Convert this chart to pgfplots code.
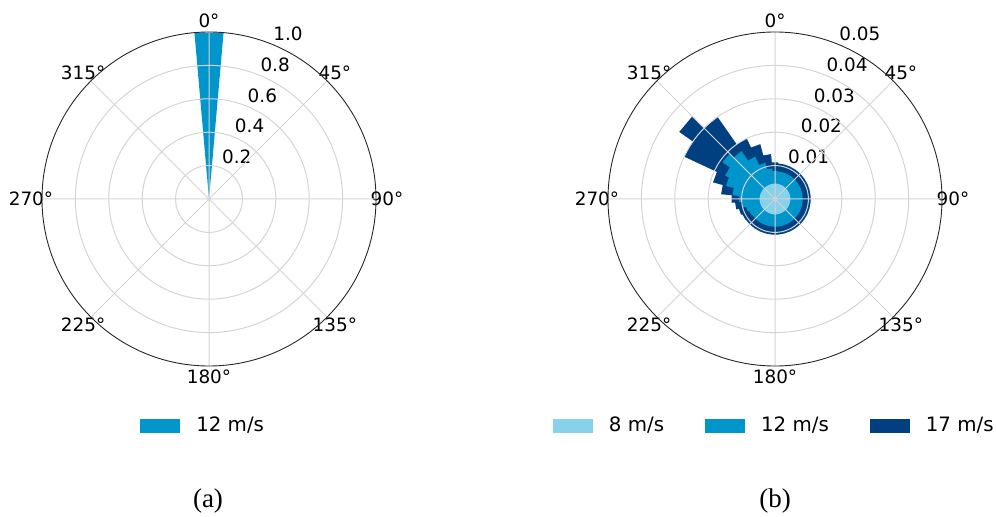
\documentclass[border=0pt]{standalone}
\usepackage{fontspec}
\setmainfont{DejaVu Sans}
\newfontfamily\capfont{Liberation Serif}
\usepackage{pgfplots}
\pgfplotsset{compat=1.18}
\usepgfplotslibrary{polar}
\definecolor{c8}{RGB}{136,209,234}
\definecolor{c12}{RGB}{0,150,204}
\definecolor{c17}{RGB}{0,64,128}
\definecolor{gridc}{RGB}{212,212,212}
\newcommand\tickfont{\fontsize{9.2}{11}\selectfont}
\newcommand\legfont{\fontsize{9.9}{12}\selectfont}
\pgfplotsset{
  rose/.style={
    width=167pt, height=167pt, scale only axis,
    anchor=center,
    clip=false, axis on top,
    xmin=0, xmax=360, ymin=0,
    xtick={0,45,...,315}, xticklabels={},
    yticklabels={}, scaled y ticks=false,
    major tick length=0pt,
    xmajorgrids, ymajorgrids,
    grid style={gridc, line width=0.5pt},
    x axis line style={black!85, line width=0.45pt},
    y axis line style={draw=none},
    x filter/.expression={90-x},
    legend columns=-1,
    legend style={draw=none, fill=none, inner sep=0pt, font=\legfont, anchor=west,
      /tikz/every odd column/.append style={column sep=6pt},
      /tikz/every even column/.append style={column sep=18.5pt}},
    legend image code/.code={\fill[#1] (0pt,-3.5pt) rectangle (20pt,3.5pt);},
  },
}
\tikzset{
  alab/.style={font=\tickfont, anchor=center, inner sep=0pt},
  rlab/.style={font=\tickfont, anchor=base west, inner sep=0pt, yshift=2.2pt},
}
\begin{document}
\begin{tikzpicture}
\useasboundingbox (0,0) rectangle (498pt,-258.5pt);
% ---------------- (a)
\begin{polaraxis}[rose, at={(104.5pt,-99.5pt)}, ymax=1,
  ytick={0.2,0.4,0.6,0.8},
  legend style={at={(0.293,-0.180)}}]
\addplot[fill=c12, draw=none] coordinates {(0,0) (-5,1) (5,1)};
\addlegendentry{12 m/s}
\node[alab] at (axis cs:90,1.066) {0°};
\node[alab] at (axis cs:45,1.066) {45°};
\node[alab] at (axis cs:0,1.066) {90°};
\node[alab] at (axis cs:-45,1.066) {135°};
\node[alab] at (axis cs:-90,1.066) {180°};
\node[alab] at (axis cs:-135,1.066) {225°};
\node[alab] at (axis cs:180,1.066) {270°};
\node[alab] at (axis cs:135,1.066) {315°};
\node[rlab] at (axis cs:67.5,0.2) {0.2};
\node[rlab] at (axis cs:67.5,0.4) {0.4};
\node[rlab] at (axis cs:67.5,0.6) {0.6};
\node[rlab] at (axis cs:67.5,0.8) {0.8};
\node[rlab] at (axis cs:67.5,1.0) {1.0};
\end{polaraxis}
% ---------------- (b)
\begin{polaraxis}[rose, at={(387.5pt,-99.5pt)}, ymax=0.05,
  ytick={0.01,0.02,0.03,0.04},
  legend style={at={(-0.166,-0.180)}}]
\addlegendimage{fill=c8, draw=none}
\addlegendentry{8 m/s}
\addlegendimage{fill=c12, draw=none}
\addlegendentry{12 m/s}
\addlegendimage{fill=c17, draw=none}
\addlegendentry{17 m/s}
% 17 m/s (cumulative total), 10 degree bins
\addplot[fill=c17, draw=none, forget plot] coordinates {
(-5,0.0110) (5,0.0110)
(5,0.0107) (15,0.0107) (15,0.0107) (25,0.0107) (25,0.0107) (35,0.0107)
(35,0.0107) (45,0.0107) (45,0.0107) (55,0.0107) (55,0.0107) (65,0.0107)
(65,0.0107) (75,0.0107) (75,0.0107) (85,0.0107) (85,0.0107) (95,0.0107)
(95,0.0107) (105,0.0107) (105,0.0107) (115,0.0107) (115,0.0107) (125,0.0107)
(125,0.0107) (135,0.0107) (135,0.0107) (145,0.0107) (145,0.0107) (155,0.0107)
(155,0.0107) (165,0.0107) (165,0.0107) (175,0.0107) (175,0.0107) (185,0.0107)
(185,0.0107) (195,0.0107) (195,0.0107) (205,0.0107) (205,0.0107) (215,0.0107)
(215,0.0107) (225,0.0107) (225,0.0107) (235,0.0107)
(235,0.0108) (245,0.0108)
(245,0.0112) (255,0.0112)
(255,0.0120) (265,0.0120)
(265,0.0130) (275,0.0130)
(275,0.0162) (285,0.0162)
(285,0.0192) (295,0.0192)
(295,0.0300) (305,0.0300)
(305,0.0350) (315,0.0350)
(315,0.0300) (325,0.0300)
(325,0.0200) (335,0.0200)
(335,0.0170) (345,0.0170)
(345,0.0135) (355,0.0135)
};
% 12 m/s (cumulative)
\addplot[fill=c12, draw=none, forget plot] coordinates {
(-5,0.0084) (5,0.0084)
(5,0.0083) (15,0.0083) (15,0.0083) (25,0.0083) (25,0.0083) (35,0.0083)
(35,0.0083) (45,0.0083) (45,0.0083) (55,0.0083) (55,0.0083) (65,0.0083)
(65,0.0083) (75,0.0083) (75,0.0083) (85,0.0083) (85,0.0083) (95,0.0083)
(95,0.0083) (105,0.0083) (105,0.0083) (115,0.0083) (115,0.0083) (125,0.0083)
(125,0.0083) (135,0.0083) (135,0.0083) (145,0.0083) (145,0.0083) (155,0.0083)
(155,0.0083) (165,0.0083) (165,0.0083) (175,0.0083) (175,0.0083) (185,0.0083)
(185,0.0083) (195,0.0083) (195,0.0083) (205,0.0083) (205,0.0083) (215,0.0083)
(215,0.0083) (225,0.0083) (225,0.0083) (235,0.0083)
(235,0.0085) (245,0.0085)
(245,0.0090) (255,0.0090)
(255,0.0098) (265,0.0098)
(265,0.0108) (275,0.0108)
(275,0.0128) (285,0.0128)
(285,0.0152) (295,0.0152)
(295,0.0165) (305,0.0165)
(305,0.0192) (315,0.0192)
(315,0.0175) (325,0.0175)
(325,0.0140) (335,0.0140)
(335,0.0112) (345,0.0112)
(345,0.0092) (355,0.0092)
};
% 8 m/s
\addplot[fill=c8, draw=none, forget plot] coordinates {
(-5,0.0046) (5,0.0046) (15,0.0046) (25,0.0046) (35,0.0046) (45,0.0046)
(55,0.0046) (65,0.0046) (75,0.0046) (85,0.0046) (95,0.0046) (105,0.0046)
(115,0.0046) (125,0.0046) (135,0.0046) (145,0.0046) (155,0.0046) (165,0.0046)
(175,0.0046) (185,0.0046) (195,0.0046) (205,0.0046) (215,0.0046) (225,0.0046)
(235,0.0046) (245,0.0046) (255,0.0046) (265,0.0046) (275,0.0046) (285,0.0046)
(295,0.0046) (305,0.0046) (315,0.0046) (325,0.0046) (335,0.0046) (345,0.0046)
};
\node[alab] at (axis cs:90,0.0533) {0°};
\node[alab] at (axis cs:45,0.0533) {45°};
\node[alab] at (axis cs:0,0.0533) {90°};
\node[alab] at (axis cs:-45,0.0533) {135°};
\node[alab] at (axis cs:-90,0.0533) {180°};
\node[alab] at (axis cs:-135,0.0533) {225°};
\node[alab] at (axis cs:180,0.0533) {270°};
\node[alab] at (axis cs:135,0.0533) {315°};
\node[rlab] at (axis cs:67.5,0.01) {0.01};
\node[rlab] at (axis cs:67.5,0.02) {0.02};
\node[rlab] at (axis cs:67.5,0.03) {0.03};
\node[rlab] at (axis cs:67.5,0.04) {0.04};
\node[rlab] at (axis cs:67.5,0.05) {0.05};
\end{polaraxis}
\node[font=\capfont\fontsize{13.5}{15}\selectfont] at (104pt,-250.5pt) {(a)};
\node[font=\capfont\fontsize{13.5}{15}\selectfont] at (387.5pt,-250.5pt) {(b)};
\end{tikzpicture}
\end{document}
